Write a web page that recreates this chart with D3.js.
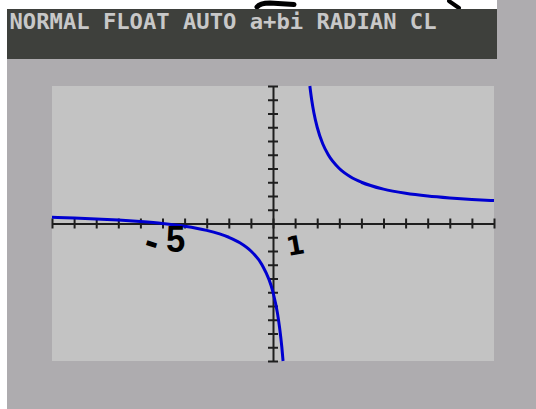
<!DOCTYPE html>
<html>
<head>
<meta charset="utf-8">
<script src="https://cdn.jsdelivr.net/npm/d3@7"></script>
<style>
  html, body { margin: 0; padding: 0; background: #ffffff; }
  svg { display: block; }
</style>
</head>
<body>
<svg id="screen" width="536" height="409"></svg>
<script>
// Window settings of the graph: Xmin/Xmax, Ymin/Ymax, one tick per unit
const xWindow = [-10, 10];
const yWindow = [-10, 10];
const xTickValues = [-10, -9, -8, -7, -6, -5, -4, -3, -2, -1, 0, 1, 2, 3, 4, 5, 6, 7, 8, 9, 10];
const yTickValues = [-10, -9, -8, -7, -6, -5, -4, -3, -2, -1, 0, 1, 2, 3, 4, 5, 6, 7, 8, 9, 10];

// Branch left of the vertical asymptote x = 1
const leftX = [-10, -9, -8, -7, -6, -5, -4, -3, -2, -1.5, -1, -0.5, 0, 0.2, 0.3, 0.4, 0.455];
const leftY = [0.45, 0.4, 0.33, 0.25, 0.14, 0, -0.2, -0.5, -1, -1.4, -2, -3, -5, -6.5, -7.6, -9, -10];

// Branch right of the vertical asymptote
const rightX = [1.667, 1.75, 1.85, 2, 2.25, 2.5, 3, 3.5, 4, 5, 6, 7, 8, 9, 10];
const rightY = [10, 9, 8.06, 7, 5.8, 5, 4, 3.4, 3, 2.5, 2.2, 2, 1.86, 1.75, 1.67];

// Status bar and handwritten notes
const statusText = "NORMAL FLOAT AUTO a+bi RADIAN CL";
const noteMinus = "-";
const noteFive = "5";
const noteOne = "1";

const svg = d3.select("#screen");
const ink = "#000000";

// Calculator frame
svg.append("rect").attr("x", 0).attr("y", 0).attr("width", 536).attr("height", 409).attr("fill", "#ffffff");

// Pen strokes above the status bar (the bar is drawn over their lower ends)
svg.append("path")
  .attr("d", "M257,7 Q260,3 270,3 L294,4.5")
  .attr("fill", "none").attr("stroke", ink).attr("stroke-width", 5).attr("stroke-linecap", "round");
svg.append("path")
  .attr("d", "M449,1 L459,8")
  .attr("fill", "none").attr("stroke", ink).attr("stroke-width", 4).attr("stroke-linecap", "round");

svg.append("rect").attr("x", 7).attr("y", 59).attr("width", 529).attr("height", 350).attr("fill", "#aeacaf");
svg.append("rect").attr("x", 497).attr("y", 0).attr("width", 39).attr("height", 409).attr("fill", "#aeacaf");
svg.append("rect").attr("x", 7).attr("y", 9).attr("width", 490).attr("height", 50).attr("fill", "#3e403c");

svg.append("text")
  .attr("x", 9.5).attr("y", 28.5)
  .attr("font-family", "DejaVu Sans Mono")
  .attr("font-weight", "bold")
  .attr("font-size", 22)
  .attr("textLength", 427)
  .attr("lengthAdjust", "spacingAndGlyphs")
  .attr("fill", "#c8c8c8")
  .text(statusText);

// Graph screen
const plot = { left: 52, right: 494, top: 86, bottom: 361 };
svg.append("rect")
  .attr("x", plot.left).attr("y", plot.top)
  .attr("width", plot.right - plot.left).attr("height", plot.bottom - plot.top)
  .attr("fill", "#c3c3c3");

const x = d3.scaleLinear().domain(xWindow).range([plot.left, plot.right]);
const y = d3.scaleLinear().domain(yWindow).range([plot.bottom, plot.top]);

const axisColor = "#1e1e1e";

// X axis through y = 0 with ticks on both sides
const gx = svg.append("g")
  .attr("transform", `translate(0,${y(0)})`)
  .call(d3.axisBottom(x).tickValues(xTickValues).tickFormat("").tickSizeOuter(0));
gx.select(".domain").attr("stroke", axisColor).attr("stroke-width", 2);
gx.selectAll(".tick line").attr("y1", -5).attr("y2", 5).attr("stroke", axisColor).attr("stroke-width", 2);

// Y axis through x = 0
const gy = svg.append("g")
  .attr("transform", `translate(${x(0)},0)`)
  .call(d3.axisLeft(y).tickValues(yTickValues).tickFormat("").tickSizeOuter(0));
gy.select(".domain").attr("stroke", axisColor).attr("stroke-width", 2);
gy.selectAll(".tick line").attr("x1", -5).attr("x2", 5).attr("stroke", axisColor).attr("stroke-width", 2);

// Plotted function, one path per branch
const line = d3.line()
  .x(d => x(d[0]))
  .y(d => y(d[1]))
  .curve(d3.curveMonotoneX);

const branches = [
  d3.zip(leftX, leftY),
  d3.zip(rightX, rightY)
];

svg.append("g")
  .selectAll("path")
  .data(branches)
  .join("path")
  .attr("d", line)
  .attr("fill", "none")
  .attr("stroke", "#0000d0")
  .attr("stroke-width", 3)
  .attr("stroke-linejoin", "round");

// Handwritten labels
svg.append("text")
  .attr("font-family", "Liberation Sans").attr("font-weight", "bold")
  .attr("font-size", 40).attr("fill", ink)
  .attr("transform", "translate(142,252) rotate(18)")
  .text(noteMinus);
svg.append("text")
  .attr("font-family", "Liberation Sans").attr("font-weight", "bold")
  .attr("font-size", 33).attr("fill", ink)
  .attr("transform", "translate(166,252) scale(1.05,1.1)")
  .text(noteFive);
svg.append("text")
  .attr("font-family", "DejaVu Sans").attr("font-weight", "bold")
  .attr("font-size", 26).attr("fill", ink)
  .attr("transform", "translate(288,256) rotate(-10)")
  .text(noteOne);
</script>
</body>
</html>
